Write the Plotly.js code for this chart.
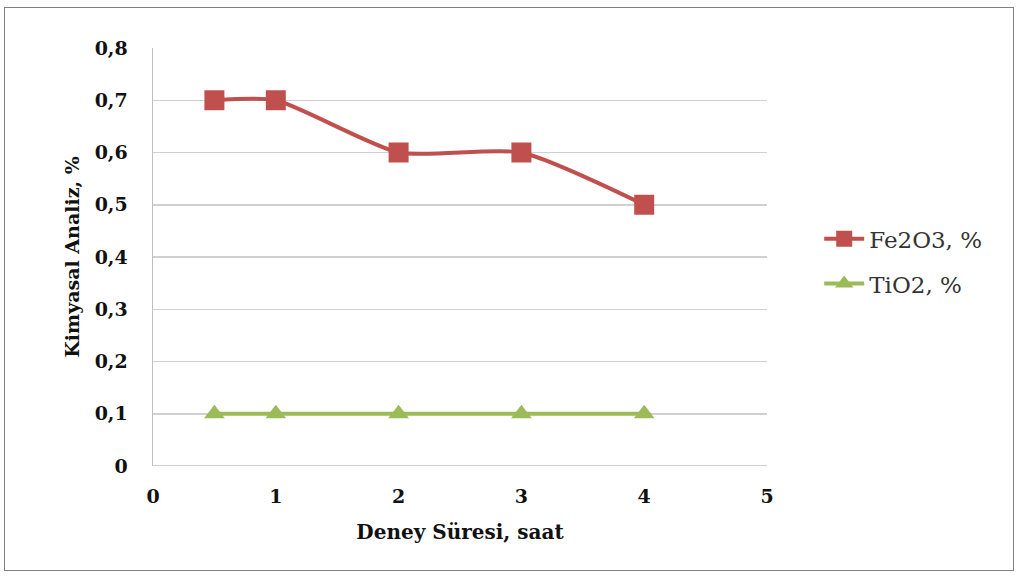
<!DOCTYPE html>
<html><head><meta charset="utf-8">
<script src="https://cdn.plot.ly/plotly-3.0.1.min.js"></script>
<style>
html,body{margin:0;padding:0;background:#fff;}
#wrap{position:relative;width:1019px;height:577px;}
#chart{position:absolute;left:0;top:0;width:1019px;height:577px;}
#frame{position:absolute;left:4px;top:7px;width:1008px;height:562px;border:1px solid #7f7f7f;pointer-events:none;}
</style></head>
<body><div id="wrap"><div id="chart"></div><div id="frame"></div></div>
<script>
const timeHours = [0.5, 1, 2, 3, 4];
const fe2o3 = [0.7, 0.7, 0.6, 0.6, 0.5];
const tio2 = [0.1, 0.1, 0.1, 0.1, 0.1];
const seriesNames = ['Fe2O3, %', 'TiO2, %'];
const yTickVals = [0, 0.1, 0.2, 0.3, 0.4, 0.5, 0.6, 0.7, 0.8];
const yTickText = ['0', '0,1', '0,2', '0,3', '0,4', '0,5', '0,6', '0,7', '0,8'];
const xTickVals = [0, 1, 2, 3, 4, 5];
const xTitle = 'Deney Süresi, saat';
const yTitle = 'Kimyasal Analiz, %';

const serif = 'DejaVu Serif, Liberation Serif, serif';
const traces = [
  {x: timeHours, y: fe2o3, name: seriesNames[0], legendgroup: 'a', mode: 'lines+markers',
   line: {color: '#C0504D', width: 4, shape: 'spline', smoothing: 0.6},
   marker: {symbol: 'square', size: 20, color: '#C0504D'}},
  {x: timeHours, y: tio2, name: seriesNames[1], legendgroup: 'b', mode: 'lines+markers',
   line: {color: '#9BBB59', width: 4},
   marker: {symbol: 'triangle-up', size: 18, color: '#9BBB59'}}
];
const layout = {
  width: 1019, height: 577,
  margin: {l: 153, r: 252, t: 48, b: 111},
  paper_bgcolor: '#fff', plot_bgcolor: '#fff',
  font: {family: serif, color: '#111'},
  xaxis: {range: [0, 5], tickvals: xTickVals, showgrid: false, zeroline: false,
    showline: false, ticks: '', ticklabelstandoff: 17,
    tickfont: {size: 19, weight: 'bold'},
    title: {text: xTitle, font: {size: 20, weight: 'bold'}, standoff: 18}},
  yaxis: {range: [0, 0.8], tickvals: yTickVals, ticktext: yTickText,
    showgrid: true, gridcolor: '#d0d0d0', gridwidth: 1.5, zeroline: false,
    showline: true, linecolor: '#bfbfbf', linewidth: 1.5, ticks: '',
    ticklabelstandoff: 20,
    tickfont: {size: 19, weight: 'bold'},
    title: {text: yTitle, font: {size: 19, weight: 'bold'}, standoff: 10}},
  showlegend: true,
  legend: {x: 1.085, xanchor: 'left', y: 0.49, yanchor: 'middle',
    font: {size: 23, color: '#333'}, tracegroupgap: 12, itemwidth: 40,
    bgcolor: 'rgba(0,0,0,0)'},
  shapes: [{type: 'line', xref: 'x', yref: 'y', x0: 0, x1: 5, y0: 0, y1: 0,
    line: {color: '#bfbfbf', width: 1.5}, layer: 'below'}]
};
Plotly.newPlot('chart', traces, layout, {displayModeBar: false, staticPlot: true});
</script></body></html>
